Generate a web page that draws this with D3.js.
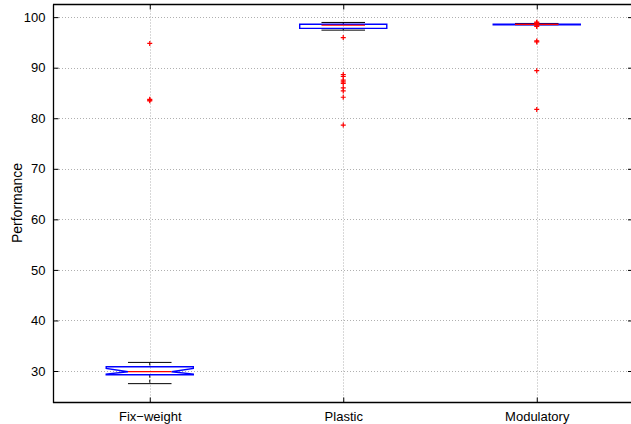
<!DOCTYPE html>
<html>
<head>
<meta charset="utf-8">
<script src="https://cdn.jsdelivr.net/npm/d3@7"></script>
<style>
  body { margin: 0; background: #fff; }
  svg text { font-family: "Liberation Sans", Arial, sans-serif; fill: #000; }
</style>
</head>
<body>
<svg id="chart" width="631" height="424"></svg>
<script>
// values
var categories = ["Fix\u2212weight", "Plastic", "Modulatory"];
var whiskerLo = [27.5, 97.43, 98.5];
var q1 = [29.27, 97.77, 98.5];
var notchLo = [29.4, null, null];
var median = [29.86, 98.4, 98.55];
var notchHi = [30.5, null, null];
var q3 = [30.85, 98.6, 98.6];
var whiskerHi = [31.7, 98.95, 98.75];
var outliers = [
  [94.8, 83.75, 83.6, 83.45],
  [95.95, 88.65, 88.3, 87.55, 87.2, 86.9, 86.0, 85.4, 84.15, 78.65],
  [99.0, 98.85, 98.7, 98.3, 98.15, 95.3, 95.1, 89.4, 81.75]
];
var yTicks = [30, 40, 50, 60, 70, 80, 90, 100];

// right edge of the axes box falls just outside the window
var margin = {left: 53, top: 4.5, right: 633.5, bottom: 402};
var svg = d3.select("#chart");

var x = d3.scalePoint().domain(categories).range([margin.left, margin.right]).padding(0.5);
var y = d3.scaleLinear().domain([23.87, 102.5]).range([margin.bottom, margin.top]);
var step = x.step();
var boxW = step * 0.45;
var capW = boxW * 0.5;

// grid
var grid = svg.append("g").attr("stroke", "#b0b0b0").attr("stroke-width", 1)
  .attr("stroke-dasharray", "1,2");
grid.selectAll(".gy").data(yTicks).enter().append("line")
  .attr("x1", margin.left).attr("x2", margin.right)
  .attr("y1", function(d){ return Math.round(y(d)) + 0.5; })
  .attr("y2", function(d){ return Math.round(y(d)) + 0.5; });
grid.selectAll(".gx").data(categories).enter().append("line")
  .attr("y1", margin.top).attr("y2", margin.bottom)
  .attr("x1", function(d){ return Math.round(x(d)) + 0.5; })
  .attr("x2", function(d){ return Math.round(x(d)) + 0.5; });

// axes (ticks point inward like matlab)
var yAxis = d3.axisLeft(y).tickValues(yTicks).tickSizeInner(-5).tickSizeOuter(0).tickPadding(8);
var gy = svg.append("g").attr("transform", "translate(" + (margin.left + 0.5) + ",0)").call(yAxis);
gy.selectAll("text").style("font-size", "13px");
svg.append("g").attr("transform", "translate(" + (margin.right - 0.5) + ",0)")
  .call(d3.axisRight(y).tickValues(yTicks).tickSizeInner(-5).tickSizeOuter(0).tickFormat(""));

var xAxis = d3.axisBottom(x).tickSizeInner(-5).tickSizeOuter(0).tickPadding(9);
var gx = svg.append("g").attr("transform", "translate(0," + (margin.bottom + 0.5) + ")").call(xAxis);
gx.selectAll("text").style("font-size", "13px");
svg.append("g").attr("transform", "translate(0," + (margin.top) + ")")
  .call(d3.axisTop(x).tickSizeInner(-5).tickSizeOuter(0).tickFormat(""));

svg.selectAll(".domain").remove();
svg.selectAll(".tick line").attr("stroke", "#000");

svg.append("line").attr("x1", margin.left + 0.5).attr("x2", margin.left + 0.5)
  .attr("y1", margin.top).attr("y2", margin.bottom + 1).attr("stroke", "#000").attr("stroke-width", 1.3);
svg.append("line").attr("x1", margin.left).attr("x2", margin.right)
  .attr("y1", margin.bottom + 0.5).attr("y2", margin.bottom + 0.5).attr("stroke", "#000").attr("stroke-width", 1.3);
svg.append("line").attr("x1", margin.left).attr("x2", margin.right)
  .attr("y1", margin.top).attr("y2", margin.top).attr("stroke", "#000").attr("stroke-width", 1.3);

svg.append("text").attr("transform", "translate(22,203) rotate(-90)")
  .attr("text-anchor", "middle").style("font-size", "14px").text("Performance");

// boxes
categories.forEach(function(c, i){
  var cx = x(c);
  var g = svg.append("g");
  var l = cx - boxW / 2, r = cx + boxW / 2;

  // whiskers
  g.append("line").attr("x1", cx).attr("x2", cx).attr("y1", y(whiskerHi[i])).attr("y2", y(q3[i]))
    .attr("stroke", "#000").attr("stroke-dasharray", "3,2");
  g.append("line").attr("x1", cx).attr("x2", cx).attr("y1", y(q1[i])).attr("y2", y(whiskerLo[i]))
    .attr("stroke", "#000").attr("stroke-dasharray", "3,2");
  [whiskerHi[i], whiskerLo[i]].forEach(function(v){
    g.append("line").attr("x1", cx - capW / 2).attr("x2", cx + capW / 2)
      .attr("y1", y(v)).attr("y2", y(v)).attr("stroke", "#000");
  });

  // box with notch
  var pts;
  if (notchLo[i] != null) {
    var d = boxW / 4;
    pts = [[l, q1[i]], [l, notchLo[i]], [l + d, median[i]], [l, notchHi[i]], [l, q3[i]],
           [r, q3[i]], [r, notchHi[i]], [r - d, median[i]], [r, notchLo[i]], [r, q1[i]]];
  } else {
    pts = [[l, q1[i]], [l, q3[i]], [r, q3[i]], [r, q1[i]]];
  }
  g.append("path")
    .attr("d", d3.line().x(function(p){ return p[0]; }).y(function(p){ return y(p[1]); })(pts) + "Z")
    .attr("fill", "none").attr("stroke", "#0000ff").attr("stroke-width", 1.4);

  g.append("line").attr("x1", cx - boxW / 4).attr("x2", cx + boxW / 4)
    .attr("y1", y(median[i])).attr("y2", y(median[i]))
    .attr("stroke", "#ff0000").attr("stroke-width", 1.2);

  // outliers as + markers
  g.selectAll(".out").data(outliers[i]).enter().append("path")
    .attr("d", function(v){
      var yy = y(v);
      return "M" + (cx - 2.5) + "," + yy + "H" + (cx + 2.5) + "M" + cx + "," + (yy - 2.5) + "V" + (yy + 2.5);
    })
    .attr("stroke", "#ff0000").attr("stroke-width", 1.2);
});
</script>
</body>
</html>
